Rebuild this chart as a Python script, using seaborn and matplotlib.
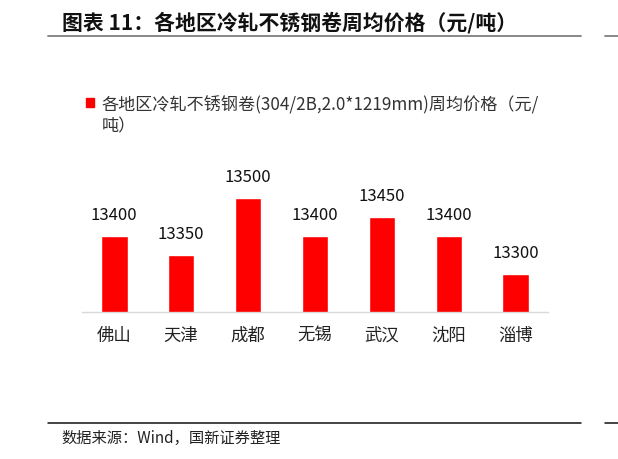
import matplotlib
matplotlib.use("Agg")
import matplotlib.pyplot as plt
import seaborn as sns
import pandas as pd
from matplotlib.lines import Line2D
from matplotlib.patches import Rectangle

cities = ["佛山", "天津", "成都", "无锡", "武汉", "沈阳", "淄博"]
prices = [13400, 13350, 13500, 13400, 13450, 13400, 13300]
series_name = "各地区冷轧不锈钢卷(304/2B,2.0*1219mm)周均价格（元/\n吨）"
title_text = "图表 11：各地区冷轧不锈钢卷周均价格（元/吨）"
source_text = "数据来源：Wind，国新证券整理"

sns.set_theme(style="white")
plt.rcParams['font.family'] = ['Noto Sans CJK SC', 'DejaVu Sans']

df = pd.DataFrame({"city": cities, "price": prices})

W, H = 618, 460
fig = plt.figure(figsize=(W / 100, H / 100), dpi=100)
ax = fig.add_axes([82 / W, (H - 313) / H, 466 / W, 152 / H])

sns.barplot(data=df, x="city", y="price", color="#FF0000", width=0.4,
            saturation=1, ax=ax)
ax.set_ylim(13200, 13600)
ax.set_xlim(-0.48, 6.48)
ax.set_xlabel("")
ax.set_ylabel("")
ax.set_yticks([])
for s in ["top", "right", "left"]:
    ax.spines[s].set_visible(False)
ax.spines["bottom"].set_color("#d9d9d9")
ax.spines["bottom"].set_linewidth(1.0)
ax.tick_params(axis="x", length=0, pad=10, labelsize=12.5, labelcolor="#222222")

for i, v in enumerate(prices):
    ax.annotate(f"{v}", xy=(i, v), xytext=(0, 9), textcoords="offset points",
                ha="center", va="bottom", fontsize=12, color="#111111")

# legend
fig.patches.append(Rectangle((86 / W, 1 - 108 / H), 8 / W, 9 / H,
                             transform=fig.transFigure, color="#FF0000"))
fig.text(102 / W, 1 - 96 / H, series_name, ha="left", va="top",
         fontsize=12.3, color="#333333", linespacing=1.2)

# title
fig.text(62 / W, 1 - 23 / H, title_text, ha="left", va="center",
         fontsize=15, fontweight="bold", color="#111111")
fig.lines.append(Line2D([48 / W, 581 / W], [1 - 37 / H, 1 - 37 / H],
                        transform=fig.transFigure, color="#7f7f7f", lw=1.3))
fig.lines.append(Line2D([605 / W, 1], [1 - 37 / H, 1 - 37 / H],
                        transform=fig.transFigure, color="#7f7f7f", lw=1.3))

# footer
fig.lines.append(Line2D([48 / W, 581 / W], [1 - 424 / H, 1 - 424 / H],
                        transform=fig.transFigure, color="#111111", lw=1.1))
fig.lines.append(Line2D([605 / W, 1], [1 - 424 / H, 1 - 424 / H],
                        transform=fig.transFigure, color="#111111", lw=1.1))
fig.text(61 / W, 1 - 438 / H, source_text, ha="left", va="center",
         fontsize=11, color="#222222")

fig.savefig("out.png", dpi=100)
